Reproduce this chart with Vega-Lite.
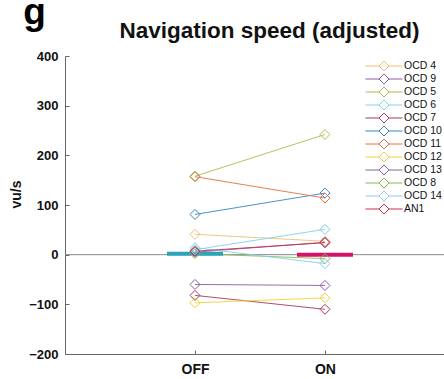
{
  "$schema": "https://vega.github.io/schema/vega-lite/v6.json",
  "width": 379,
  "height": 298,
  "autosize": "none",
  "padding": {"left": 65, "top": 56, "right": 0, "bottom": 25},
  "background": "white",
  "title": {
    "text": "Navigation speed (adjusted)",
    "anchor": "middle",
    "dx": 15,
    "offset": -49,
    "fontSize": 22.5,
    "font": "Liberation Sans",
    "fontWeight": "bold",
    "color": "#111111"
  },
  "config": {
    "view": {"stroke": null},
    "font": "Liberation Sans"
  },
  "datasets": {
    "obs": [
      {"subject": "OCD 4", "cond": "OFF", "speed": 41},
      {"subject": "OCD 4", "cond": "ON", "speed": 27},
      {"subject": "OCD 9", "cond": "OFF", "speed": -60},
      {"subject": "OCD 9", "cond": "ON", "speed": -62},
      {"subject": "OCD 5", "cond": "OFF", "speed": 158},
      {"subject": "OCD 5", "cond": "ON", "speed": 242},
      {"subject": "OCD 6", "cond": "OFF", "speed": 10},
      {"subject": "OCD 6", "cond": "ON", "speed": 51},
      {"subject": "OCD 7", "cond": "OFF", "speed": -82},
      {"subject": "OCD 7", "cond": "ON", "speed": -110},
      {"subject": "OCD 10", "cond": "OFF", "speed": 81},
      {"subject": "OCD 10", "cond": "ON", "speed": 124},
      {"subject": "OCD 11", "cond": "OFF", "speed": 157},
      {"subject": "OCD 11", "cond": "ON", "speed": 114},
      {"subject": "OCD 12", "cond": "OFF", "speed": -97},
      {"subject": "OCD 12", "cond": "ON", "speed": -87},
      {"subject": "OCD 13", "cond": "OFF", "speed": 5},
      {"subject": "OCD 13", "cond": "ON", "speed": 25},
      {"subject": "OCD 8", "cond": "OFF", "speed": 2},
      {"subject": "OCD 8", "cond": "ON", "speed": -8},
      {"subject": "OCD 14", "cond": "OFF", "speed": 14},
      {"subject": "OCD 14", "cond": "ON", "speed": -18},
      {"subject": "AN1", "cond": "OFF", "speed": 7},
      {"subject": "AN1", "cond": "ON", "speed": 24}
    ],
    "means": [
      {"cond": "OFF", "speed": 2},
      {"cond": "ON", "speed": 0}
    ],
    "zero": [{"speed": 0}]
  },
  "encoding": {
    "x": {
      "field": "cond",
      "type": "nominal",
      "scale": {"type": "point", "domain": ["OFF", "ON"], "padding": 0.958, "align": 0.522},
      "axis": {
        "title": "g",
        "titleFontSize": 37,
        "titleFontWeight": "bold",
        "titleColor": "#000000",
        "titleX": -31,
        "titleY": -331,
        "titleAlign": "center",
        "titleBaseline": "alphabetic",
        "labelAngle": 0,
        "labelFontSize": 14,
        "labelFontWeight": "bold",
        "labelColor": "#111111",
        "labelPadding": 12,
        "tickSize": -4,
        "tickColor": "#666666",
        "domainColor": "#666666",
        "labelBaseline": "top"
      }
    },
    "y": {
      "field": "speed",
      "type": "quantitative",
      "scale": {"domain": [-200, 400], "nice": false, "zero": false},
      "axis": {
        "title": "vu/s",
        "titleFontSize": 14,
        "titleFontWeight": "bold",
        "titleColor": "#111111",
        "titleX": -42,
        "titleY": 138,
        "values": [-200, -100, 0, 100, 200, 300, 400],
        "grid": false,
        "labelFontSize": 13,
        "labelFontWeight": "bold",
        "labelColor": "#111111",
        "labelPadding": 11,
        "tickSize": -4,
        "tickColor": "#666666",
        "domainColor": "#666666"
      }
    }
  },
  "layer": [
    {
      "data": {"name": "zero"},
      "mark": {"type": "rule", "color": "#888888", "strokeWidth": 1},
      "encoding": {"x": null, "y": {"field": "speed", "type": "quantitative"}}
    },
    {
      "data": {"name": "obs"},
      "mark": {"type": "line", "strokeWidth": 1, "opacity": 0.9},
      "encoding": {
        "color": {
          "field": "subject",
          "type": "nominal",
          "scale": {
            "domain": ["OCD 4", "OCD 9", "OCD 5", "OCD 6", "OCD 7", "OCD 10", "OCD 11", "OCD 12", "OCD 13", "OCD 8", "OCD 14", "AN1"],
            "range": ["#F0C070", "#8E5AA8", "#A8C050", "#80D0EC", "#A83A5A", "#3A85C0", "#E07040", "#F2D040", "#8A60A8", "#88BB50", "#88CCEE", "#C8304E"]
          },
          "legend": null
        },
        "detail": {"field": "subject"}
      }
    },
    {
      "data": {"name": "means"},
      "mark": {"type": "tick", "size": 56, "thickness": 4, "opacity": 1},
      "encoding": {
        "color": {
          "field": "cond",
          "type": "nominal",
          "scale": {"domain": ["OFF", "ON"], "range": ["#2AA5B8", "#D4126A"]},
          "legend": null
        }
      }
    },
    {
      "data": {"name": "obs"},
      "mark": {"type": "point", "shape": "diamond", "size": 100, "filled": false, "strokeWidth": 1, "opacity": 1},
      "encoding": {
        "color": {
          "field": "subject",
          "type": "nominal",
          "scale": {
            "domain": ["OCD 4", "OCD 9", "OCD 5", "OCD 6", "OCD 7", "OCD 10", "OCD 11", "OCD 12", "OCD 13", "OCD 8", "OCD 14", "AN1"],
            "range": ["#F0C070", "#8E5AA8", "#A8C050", "#80D0EC", "#A83A5A", "#3A85C0", "#E07040", "#F2D040", "#8A60A8", "#88BB50", "#88CCEE", "#C8304E"]
          },
          "legend": {
            "title": null,
            "orient": "none",
            "legendX": 313.5,
            "legendY": 4.5,
            "padding": 0,
            "symbolType": "M-3.7,0H-1M1,0H3.7M0,-1L1,0L0,1L-1,0Z",
            "symbolSize": 100,
            "symbolStrokeWidth": 1,
            "symbolFillColor": "transparent",
            "labelFontSize": 10.5,
            "labelColor": "#111111",
            "labelOffset": 14.5,
            "rowPadding": -2
          }
        }
      }
    }
  ],
  "resolve": {"scale": {"color": "independent"}}
}
